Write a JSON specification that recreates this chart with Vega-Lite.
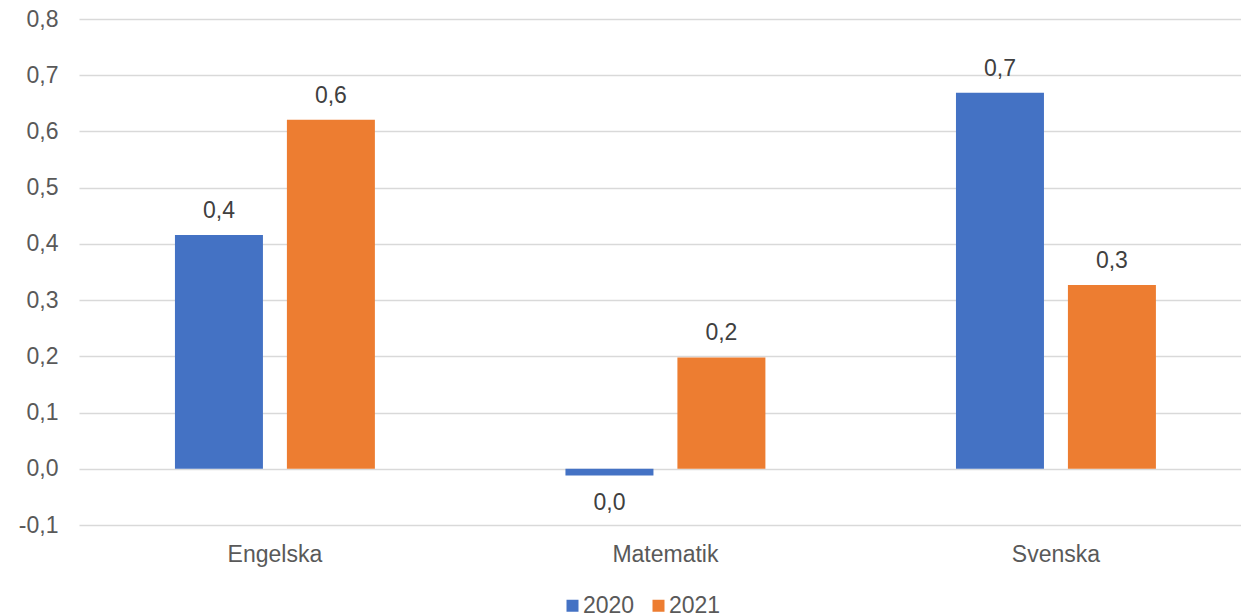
{
  "$schema": "https://vega.github.io/schema/vega-lite/v6.json",
  "autosize": {"type": "none"},
  "width": 1162,
  "height": 506,
  "padding": {"left": 79, "top": 19, "right": 0, "bottom": 90},
  "background": "white",
  "config": {
    "locale": {"number": {"decimal": ",", "thousands": "\u00a0", "grouping": [3], "currency": ["", " kr"], "minus": "-"}},
    "view": {"stroke": null},
    "font": "Liberation Sans",
    "axis": {"labelFont": "Liberation Sans", "labelFontSize": 23, "labelColor": "#595959", "domain": false, "ticks": false, "title": null},
    "legend": {"labelFont": "Liberation Sans", "labelFontSize": 23, "labelColor": "#595959"}
  },
  "data": {"values": [
    {"subject": "Engelska", "year": "2020", "value": 0.416, "label": "0,4"},
    {"subject": "Engelska", "year": "2021", "value": 0.621, "label": "0,6"},
    {"subject": "Matematik", "year": "2020", "value": -0.012, "label": "0,0"},
    {"subject": "Matematik", "year": "2021", "value": 0.198, "label": "0,2"},
    {"subject": "Svenska", "year": "2020", "value": 0.669, "label": "0,7"},
    {"subject": "Svenska", "year": "2021", "value": 0.327, "label": "0,3"}
  ]},
  "encoding": {
    "x": {"field": "subject", "type": "nominal", "sort": null,
      "scale": {"paddingInner": 0.488, "paddingOuter": 0.2318, "align": 0.53},
      "axis": {"orient": "bottom", "labelAngle": 0, "labelPadding": 18, "grid": false}},
    "xOffset": {"field": "year", "type": "nominal", "scale": {"paddingInner": 0.214, "paddingOuter": 0}},
    "y": {"field": "value", "type": "quantitative",
      "scale": {"domain": [-0.1, 0.8], "nice": false, "zero": false},
      "axis": {"values": [-0.1, 0, 0.1, 0.2, 0.3, 0.4, 0.5, 0.6, 0.7, 0.8], "format": ".1f", "labelPadding": 21, "grid": true, "gridColor": "#d9d9d9", "gridWidth": 1.5}}
  },
  "layer": [
    {
      "mark": {"type": "bar"},
      "encoding": {
        "color": {"field": "year", "type": "nominal",
          "scale": {"domain": ["2020", "2021"], "range": ["#4472C4", "#ED7D31"]},
          "legend": {"title": null, "orient": "none", "direction": "horizontal", "legendX": 482, "legendY": 575, "symbolType": "square", "symbolSize": 144, "symbolStrokeWidth": 0, "labelOffset": -1, "columnPadding": 12}}
      }
    },
    {
      "transform": [{"filter": "datum.value >= 0"}],
      "mark": {"type": "text", "baseline": "alphabetic", "dy": -17, "fontSize": 23, "color": "#404040", "font": "Liberation Sans"},
      "encoding": {"text": {"field": "label", "type": "nominal"}}
    },
    {
      "transform": [{"filter": "datum.value < 0"}],
      "mark": {"type": "text", "baseline": "alphabetic", "dy": 34, "fontSize": 23, "color": "#404040", "font": "Liberation Sans"},
      "encoding": {"text": {"field": "label", "type": "nominal"}}
    }
  ]
}
